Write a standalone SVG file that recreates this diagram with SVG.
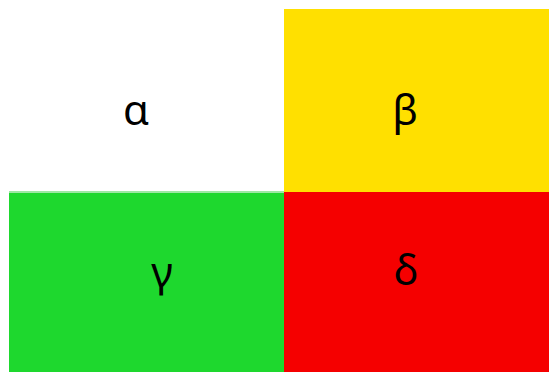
<svg xmlns="http://www.w3.org/2000/svg" width="549" height="372" viewBox="0 0 549 372">
<style>
.t{font-family:"Noto Sans","DejaVu Sans",sans-serif;font-size:42px;fill:#000;text-anchor:middle}
</style>
<rect width="549" height="372" fill="#fff"/>
<g id="alpha"><text class="t" x="136" y="125">α</text></g>
<g id="beta"><rect x="284" y="9" width="265" height="183" fill="#ffe000"/><text class="t" x="405" y="125">β</text></g>
<g id="gamma"><rect x="9" y="191" width="275" height="181" fill="#1ed82e"/><rect x="9" y="191" width="275" height="2" fill="#9ee8a4"/><text class="t" x="162" y="287">γ</text></g>
<g id="delta"><rect x="284" y="192" width="265" height="180" fill="#f50000"/><text class="t" x="406" y="285">δ</text></g>
<g id="connectors"></g>
</svg>
